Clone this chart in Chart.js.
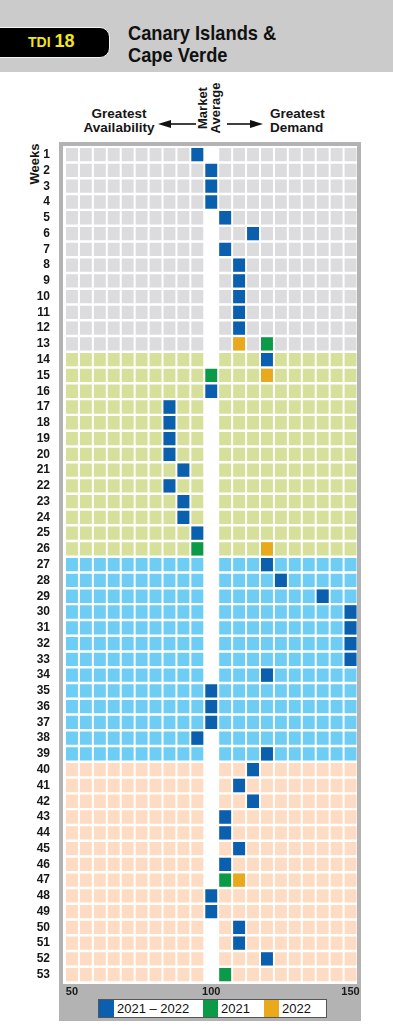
<!DOCTYPE html>
<html>
<head>
<meta charset="utf-8">
<script src="https://cdn.jsdelivr.net/npm/chart.js@4.4.1/dist/chart.umd.min.js"></script>
<style>
  body { margin:0; width:393px; height:1028px; background:#fff; position:relative; overflow:hidden;
         font-family:"Liberation Sans", Arial, sans-serif; color:#161616; }
  .abs { position:absolute; }
  #band { left:0; top:0; width:393px; height:72px; background:#cbcbcb; }
  #tab { left:-14px; top:27px; width:122px; height:29px; background:#000; border:1.5px solid #f4f4f4; border-radius:10px; }
  #tabtext { left:28px; top:31px; color:#f2e61a; font-weight:bold; white-space:nowrap; }
  #tabtext .t { font-size:14px; }
  #tabtext .n { font-size:18px; margin-left:4px; }
  #title { left:128px; top:22px; font:bold 21px/22px "Liberation Sans", Arial, sans-serif; color:#111;
           transform:scaleX(0.87); transform-origin:0 0; white-space:nowrap; }
  .note { font:bold 13.5px/14px "Liberation Sans", Arial, sans-serif; white-space:nowrap; }
  #avail { left:69px; top:107px; width:100px; text-align:center; }
  #demand { left:270px; top:107px; }
  #market { left:180px; top:95px; width:60px; height:26px; text-align:center; transform:rotate(-90deg);
            font:bold 13px/12.5px "Liberation Sans", Arial, sans-serif; }
  #weeks { left:14px; top:157px; width:42px; text-align:center; transform:rotate(-90deg);
           font:bold 13px/14px "Liberation Sans", Arial, sans-serif; }
  #frame { left:59px; top:142px; width:302px; height:879px; background:#b3b3b3; }
  #inner { left:63px; top:145.5px; width:294px; height:838px; background:#fff; }
  #legend { left:98px; top:999px; width:227px; height:17px; background:#fff; border:1px solid #555; }
  #legend .item { position:absolute; top:0; height:17px; font:13px/17px "Liberation Sans", Arial, sans-serif; color:#111; white-space:nowrap; }
  #legend .sw { position:absolute; left:0; top:0; width:15px; height:17px; }
  #legend .lb { position:absolute; left:18px; top:0; }
  canvas { position:absolute; left:0; top:0; }
</style>
</head>
<body>
<div id="band" class="abs"></div>
<div id="tab" class="abs"></div>
<div id="tabtext" class="abs"><span class="t">TDI</span><span class="n">18</span></div>
<div id="title" class="abs">Canary Islands &amp;<br>Cape Verde</div>

<div id="avail" class="abs note">Greatest<br>Availability</div>
<div id="demand" class="abs note">Greatest<br>Demand</div>
<div id="market" class="abs">Market<br>Average</div>
<svg class="abs" style="left:0;top:0" width="393" height="140">
  <line x1="196" y1="124" x2="168" y2="124" stroke="#111" stroke-width="1.6"/>
  <polygon points="158,124 171,120 171,128" fill="#111"/>
  <line x1="227" y1="124" x2="252" y2="124" stroke="#111" stroke-width="1.6"/>
  <polygon points="263,124 250,120 250,128" fill="#111"/>
</svg>
<div id="weeks" class="abs">Weeks</div>

<div id="frame" class="abs"></div>
<div id="inner" class="abs"></div>
<div id="legend" class="abs"></div>

<canvas id="tdi" width="393" height="1028"></canvas>

<script>
// week categories (y axis)
const weeks = ['1','2','3','4','5','6','7','8','9','10','11','12','13','14','15','16','17','18','19','20',
  '21','22','23','24','25','26','27','28','29','30','31','32','33','34','35','36','37','38','39','40',
  '41','42','43','44','45','46','47','48','49','50','51','52','53'];

// index columns of the grid (100 = market average, left empty)
const columns = [50, 55, 60, 65, 70, 75, 80, 85, 90, 95, 105, 110, 115, 120, 125, 130, 135, 140, 145, 150];
const xTicks = [50, 100, 150];

// index value per week for each period
const avg2122 = [95,100,100,100,105,115,105,110,110,110,110,110,null,120,null,100,85,85,85,85,
  90,85,90,90,95,null,120,125,140,150,150,150,150,120,100,100,100,95,120,115,
  110,115,105,105,110,105,null,100,100,110,110,120,null];
const val2021 = [null,null,null,null,null,null,null,null,null,null,null,null,120,null,100,null,null,null,null,null,
  null,null,null,null,null,95,null,null,null,null,null,null,null,null,null,null,null,null,null,null,
  null,null,null,null,null,null,105,null,null,null,null,null,105];
const val2022 = [null,null,null,null,null,null,null,null,null,null,null,null,110,null,120,null,null,null,null,null,
  null,null,null,null,null,120,null,null,null,null,null,null,null,null,null,null,null,null,null,null,
  null,null,null,null,null,null,110,null,null,null,null,null,null];

const seriesNames = ['2021 \u2013 2022', '2021', '2022'];
const seriesColors = ['#0a5fae', '#0b9a47', '#e8a91d'];
const seriesValues = [avg2122, val2021, val2022];

// row band colours: weeks 1-13, 14-26, 27-39, 40-53
const bandColors = ['#dcdcde', '#d6e09b', '#6dcdf5', '#fddcc3'];
const bandOf = i => Math.min(3, Math.floor(i / 13));

const cell = v => v == null ? null : [v - 2.5, v + 2.5];

const datasets = [];
seriesValues.forEach((vals, k) => {
  datasets.push({ label: seriesNames[k], data: vals.map(cell), backgroundColor: seriesColors[k], order: 0 });
});
columns.forEach(c => {
  datasets.push({
    label: 'col' + c,
    data: weeks.map(() => cell(c)),
    backgroundColor: weeks.map((w, i) => bandColors[bandOf(i)]),
    order: 1
  });
});

new Chart(document.getElementById('tdi'), {
  type: 'bar',
  data: { labels: weeks, datasets: datasets },
  options: {
    indexAxis: 'y',
    responsive: false,
    animation: false,
    events: [],
    datasets: {
      bar: {
        grouped: false,
        barPercentage: 0.97,
        categoryPercentage: 1,
        borderWidth: 1,
        borderColor: 'rgba(0,0,0,0)',
        borderSkipped: false,
        inflateAmount: 0
      }
    },
    layout: { padding: { left: 0, right: 35.5, top: 146.8, bottom: 25.4 } },
    plugins: { legend: { display: false }, tooltip: { enabled: false } },
    scales: {
      x: {
        type: 'linear', min: 47.5, max: 152.5,
        grid: { display: false, drawTicks: false },
        border: { display: false },
        ticks: { padding: 3, color: '#1a1a1a', maxRotation: 0, autoSkip: false,
                 font: { family: '"Liberation Sans", Arial, sans-serif', size: 11, weight: 'bold' } },
        afterBuildTicks: s => { s.ticks = xTicks.map(v => ({ value: v })); },
        afterFit: s => { s.height = 20; }
      },
      y: {
        type: 'category', offset: true,
        grid: { display: false, drawTicks: false },
        border: { display: false },
        ticks: { padding: 15, color: '#161616', autoSkip: false,
                 font: { family: '"Liberation Sans", Arial, sans-serif', size: 12, weight: 'bold' } },
        afterFit: s => { s.width = 65; }
      }
    }
  }
});

// legend box under the grid
const legend = document.getElementById('legend');
const itemLefts = [0, 104, 165];
seriesNames.forEach((name, k) => {
  const it = document.createElement('div');
  it.className = 'item';
  it.style.left = itemLefts[k] + 'px';
  it.innerHTML = '<div class="sw" style="background:' + seriesColors[k] + '"></div><div class="lb">' + name + '</div>';
  legend.appendChild(it);
});
</script>
</body>
</html>
